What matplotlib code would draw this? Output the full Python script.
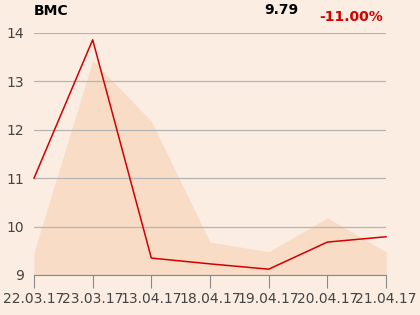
import matplotlib
matplotlib.use('Agg')
import matplotlib.pyplot as plt

# data
dates = ['22.03.17', '23.03.17', '13.04.17', '18.04.17', '19.04.17', '20.04.17', '21.04.17']
price = [11.0, 13.86, 9.35, 9.23, 9.12, 9.68, 9.79]
band = [9.47, 13.43, 12.18, 9.68, 9.48, 10.18, 9.48]
yticks = [9, 10, 11, 12, 13, 14]

BG = '#FBEDE1'


def run():
    fig = plt.figure(figsize=(4.2, 3.15), dpi=100, facecolor=BG)
    ax = fig.add_axes([34/420, 40/315, 352/420, 242/315])
    ax.set_facecolor(BG)
    x = list(range(len(dates)))

    ax.fill_between(x, 9, band, color='#F8DCC6', lw=0, zorder=1)
    ax.plot(x, price, color='#D40000', lw=1.1, zorder=3, clip_on=False)

    ax.set_xlim(0, len(dates) - 1)
    ax.set_ylim(9, 14)
    ax.set_yticks(yticks)
    ax.set_xticks(x)
    ax.set_xticklabels(dates)
    ax.grid(axis='y', color='#B5B5B5', lw=0.9, zorder=0)
    for s in ['top', 'right', 'left']:
        ax.spines[s].set_visible(False)
    ax.spines['bottom'].set_color('#8A8A8A')
    ax.tick_params(axis='x', length=9.5, color='#8A8A8A', labelsize=10,
                   labelcolor='#444444', pad=3)
    ax.tick_params(axis='y', length=0, labelsize=10, labelcolor='#444444', pad=7)

    fig.text(34/420, 1 - 11/315, 'BMC', fontsize=10, fontweight='bold',
             va='center', ha='left')
    fig.text(281/420, 1 - 10/315, '9.79', fontsize=10, fontweight='bold',
             va='center', ha='center')
    fig.text(351/420, 1 - 17/315, '-11.00%', fontsize=10, fontweight='bold',
             color='#D40000', va='center', ha='center')

    fig.savefig('out.png', dpi=100, facecolor=BG)


if __name__ == '__main__':
    run()
